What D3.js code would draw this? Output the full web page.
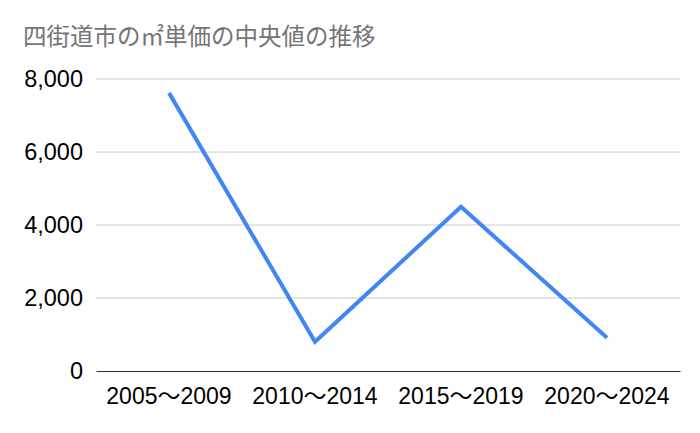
<!DOCTYPE html>
<html>
<head>
<meta charset="utf-8">
<script src="https://cdn.jsdelivr.net/npm/d3@7"></script>
<style>
  body { margin: 0; background: #fff; }
  .line { fill: none; stroke: #4285f4; stroke-width: 4; stroke-linejoin: miter; }
</style>
</head>
<body>
<div id="chart-area"></div>
<script>
const categories = ["2005〜2009", "2010〜2014", "2015〜2019", "2020〜2024"];
const values = [7620, 800, 4500, 910];
const yTicks = [0, 2000, 4000, 6000, 8000];
const title = "四街道市の㎡単価の中央値の推移";

let margin = { top: 79, right: 20, bottom: 62, left: 96 },
  width = 700 - margin.left - margin.right,
  height = 433 - margin.top - margin.bottom;

let svg = d3
  .select("#chart-area")
  .append("svg")
  .attr("width", 700)
  .attr("height", 433);

// タイトル
svg
  .append("text")
  .attr("x", 23)
  .attr("y", 45)
  .attr("fill", "#757575")
  .style("font-family", "'Noto Sans CJK JP', sans-serif")
  .style("font-size", "23.5px")
  .text(title);

let g = svg
  .append("g")
  .attr("transform", "translate(" + margin.left + "," + margin.top + ")");

let xScale = d3.scaleBand().domain(categories).range([0, width]);
let yScale = d3.scaleLinear().domain([0, 8000]).range([height, 0]);

// グリッド線
g.append("g")
  .selectAll("line")
  .data(yTicks.filter(d => d !== 0))
  .enter()
  .append("line")
  .attr("x1", 0)
  .attr("x2", width)
  .attr("y1", d => yScale(d))
  .attr("y2", d => yScale(d))
  .attr("stroke", "#cccccc")
  .attr("stroke-width", 1);

// Y軸ラベル
g.append("g")
  .selectAll("text")
  .data(yTicks)
  .enter()
  .append("text")
  .attr("x", -13)
  .attr("y", d => yScale(d))
  .attr("dy", "0.35em")
  .attr("text-anchor", "end")
  .attr("fill", "#000")
  .style("font-family", "'Liberation Sans', Arial, sans-serif")
  .style("font-size", "23.5px")
  .text(d => d3.format(",")(d));

// X軸
let xAxis = g
  .append("g")
  .attr("transform", "translate(0," + height + ")")
  .call(d3.axisBottom(xScale).tickSize(0).tickPadding(17));
xAxis.select(".domain").attr("stroke", "#333").attr("stroke-width", 1);
xAxis
  .selectAll("text")
  .attr("fill", "#000")
  .style("font-family", "'Liberation Sans', 'Noto Sans CJK JP', sans-serif")
  .style("font-size", "23px");

// 折れ線
let line = d3
  .line()
  .x((d, i) => xScale(categories[i]) + xScale.bandwidth() / 2)
  .y(d => yScale(d));

g.append("path")
  .datum(values)
  .attr("class", "line")
  .attr("d", line);
</script>
</body>
</html>
